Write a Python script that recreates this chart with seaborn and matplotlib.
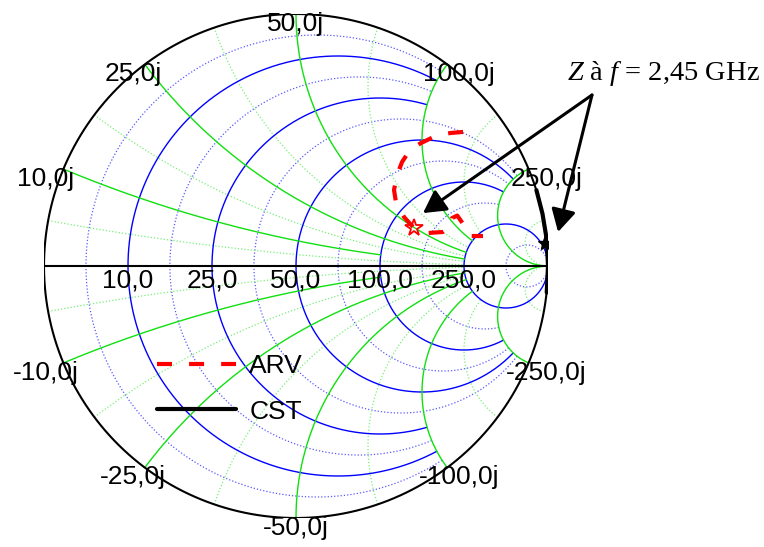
import numpy as np
import pandas as pd
import matplotlib
matplotlib.use("Agg")
import matplotlib.pyplot as plt
import seaborn as sns

arv_re = [0.663, 0.615, 0.563, 0.496, 0.452, 0.421, 0.401, 0.389, 0.397, 0.429,
          0.468, 0.524, 0.583, 0.611, 0.619, 0.640, 0.668, 0.690, 0.742]
arv_im = [0.532, 0.528, 0.520, 0.488, 0.460, 0.413, 0.361, 0.302, 0.250, 0.194,
          0.151, 0.131, 0.135, 0.151, 0.190, 0.200, 0.160, 0.119, 0.119]
cst_re = [0.954, 0.978, 0.995, 1.000, 0.995]
cst_im = [0.301, 0.208, 0.105, 0.000, -0.105]

# impedance at 2.45 GHz (S11)
arv_mark = (0.468, 0.151)
cst_mark = (0.988, 0.091)

z0 = 50
# normalised grid values; None = drawn up to the open circuit point
r_major = [0.2, 0.5, 1, 2, 5]
r_major_stop = [2, 2, 5, 5, None]
x_major = [0.2, 0.5, 1, 2, 5]
x_major_stop = [2, 5, 5, 5, None]
r_minor = [0.0909, 0.333, 0.714, 1.4, 3, 11]
r_minor_stop = [2, 2, 5, 5, 5, None]
x_minor = [0.0909, 0.333, 0.714, 1.4, 3, 11]
x_minor_stop = [5, 5, 5, 5, 5, None]


def gamma(z):
    return (z - 1) / (z + 1)


def r_circle(r, stop):
    lim = np.arctan(stop) if stop else np.pi / 2 - 1e-4
    x = np.tan(np.linspace(-lim, lim, 600))
    return gamma(r + 1j * x)


def x_arc(x, stop):
    lim = np.arctan(stop) if stop else np.pi / 2 - 1e-4
    r = np.tan(np.linspace(0, lim, 400))
    return gamma(r + 1j * x)


sns.set_theme(style="white")
plt.rcParams["font.family"] = ["Liberation Sans", "DejaVu Sans"]
plt.rcParams["text.color"] = "black"
plt.rcParams["mathtext.fontset"] = "custom"
plt.rcParams["mathtext.it"] = "Liberation Serif:italic"
plt.rcParams["mathtext.rm"] = "Liberation Serif"

W, H = 764, 547
fig = plt.figure(figsize=(W / 100, H / 100), dpi=100)
ax = fig.add_axes([44 / W, 29 / H, 504 / W, 504 / H])
ax.set_xlim(-1, 1)
ax.set_ylim(-1, 1)
ax.set_aspect("equal")
ax.axis("off")

blue, green = "#0000ff", "#10e010"
dot_blue, dot_green = "#5a5aff", "#78f078"

for r, s in zip(r_minor, r_minor_stop):
    g = r_circle(r, s)
    ax.plot(g.real, g.imag, color=dot_blue, lw=0.9, ls=(0, (1, 1.6)), zorder=1)
for x, s in zip(x_minor, x_minor_stop):
    for sgn in (1, -1):
        g = x_arc(sgn * x, s)
        ax.plot(g.real, g.imag, color=dot_green, lw=0.9, ls=(0, (1, 1.6)), zorder=1)
for r, s in zip(r_major, r_major_stop):
    g = r_circle(r, s)
    ax.plot(g.real, g.imag, color=blue, lw=1.0, zorder=2)
for x, s in zip(x_major, x_major_stop):
    for sgn in (1, -1):
        g = x_arc(sgn * x, s)
        ax.plot(g.real, g.imag, color=green, lw=1.0, zorder=2)

t = np.linspace(0, 2 * np.pi, 720)
ax.plot(np.cos(t), np.sin(t), color="black", lw=1.5, zorder=3)
ax.plot([-1, 1], [0, 0], color="black", lw=1.5, zorder=3)

# axis labels
for r in r_major:
    ax.annotate(f"{r * z0:.1f}".replace(".", ","), (gamma(r), 0),
                xytext=(0, -2), textcoords="offset points",
                ha="center", va="top", fontsize=19, zorder=5)
for x in x_major:
    for sgn in (1, -1):
        g = gamma(1j * sgn * x)
        th = np.angle(g)
        ax.annotate(f"{sgn * x * z0:.1f}j".replace(".", ","), (g.real, g.imag),
                    xytext=(14 * np.cos(th), -7), textcoords="offset points",
                    ha="center", va="center", fontsize=19, zorder=5,
                    annotation_clip=False)

# measured curves
arv = pd.DataFrame({"re": arv_re, "im": arv_im})
cst = pd.DataFrame({"re": cst_re, "im": cst_im})
sns.lineplot(data=arv, x="re", y="im", sort=False, estimator=None, ax=ax,
             color="red", lw=3, linestyle=(0, (3.6, 4.1)), label="ARV", zorder=6)
sns.lineplot(data=cst, x="re", y="im", sort=False, estimator=None, ax=ax,
             color="black", lw=3, label="CST", zorder=6)
ax.plot(*arv_mark, marker="*", ms=13, mfc="none", mec="red", mew=1.3, zorder=7)
ax.plot(*cst_mark, marker="*", ms=11, color="black", zorder=7)

leg = ax.legend(loc="center left", bbox_to_anchor=(157 / W, 1 - 389 / H),
                bbox_transform=fig.transFigure, frameon=False, fontsize=19,
                handlelength=3.0, handletextpad=0.5, labelspacing=0.8,
                borderpad=0, borderaxespad=0)

# annotation
src = (592, H - 95)
for tip in [(0.504, 0.210), (1.040, 0.135)]:
    ax.annotate("", xy=tip, xycoords="data", xytext=src,
                textcoords="figure pixels",
                arrowprops=dict(arrowstyle="-|>,head_length=0.4,head_width=0.22",
                                mutation_scale=34, lw=2.2, color="black",
                                shrinkA=0, shrinkB=0),
                annotation_clip=False, zorder=8)
fig.text(663 / W, 1 - 73 / H, r"$Z$ à $f$ = 2,45 GHz", ha="center", va="center",
         fontsize=20.5, family="Liberation Serif")

fig.savefig("out.png", dpi=100)
